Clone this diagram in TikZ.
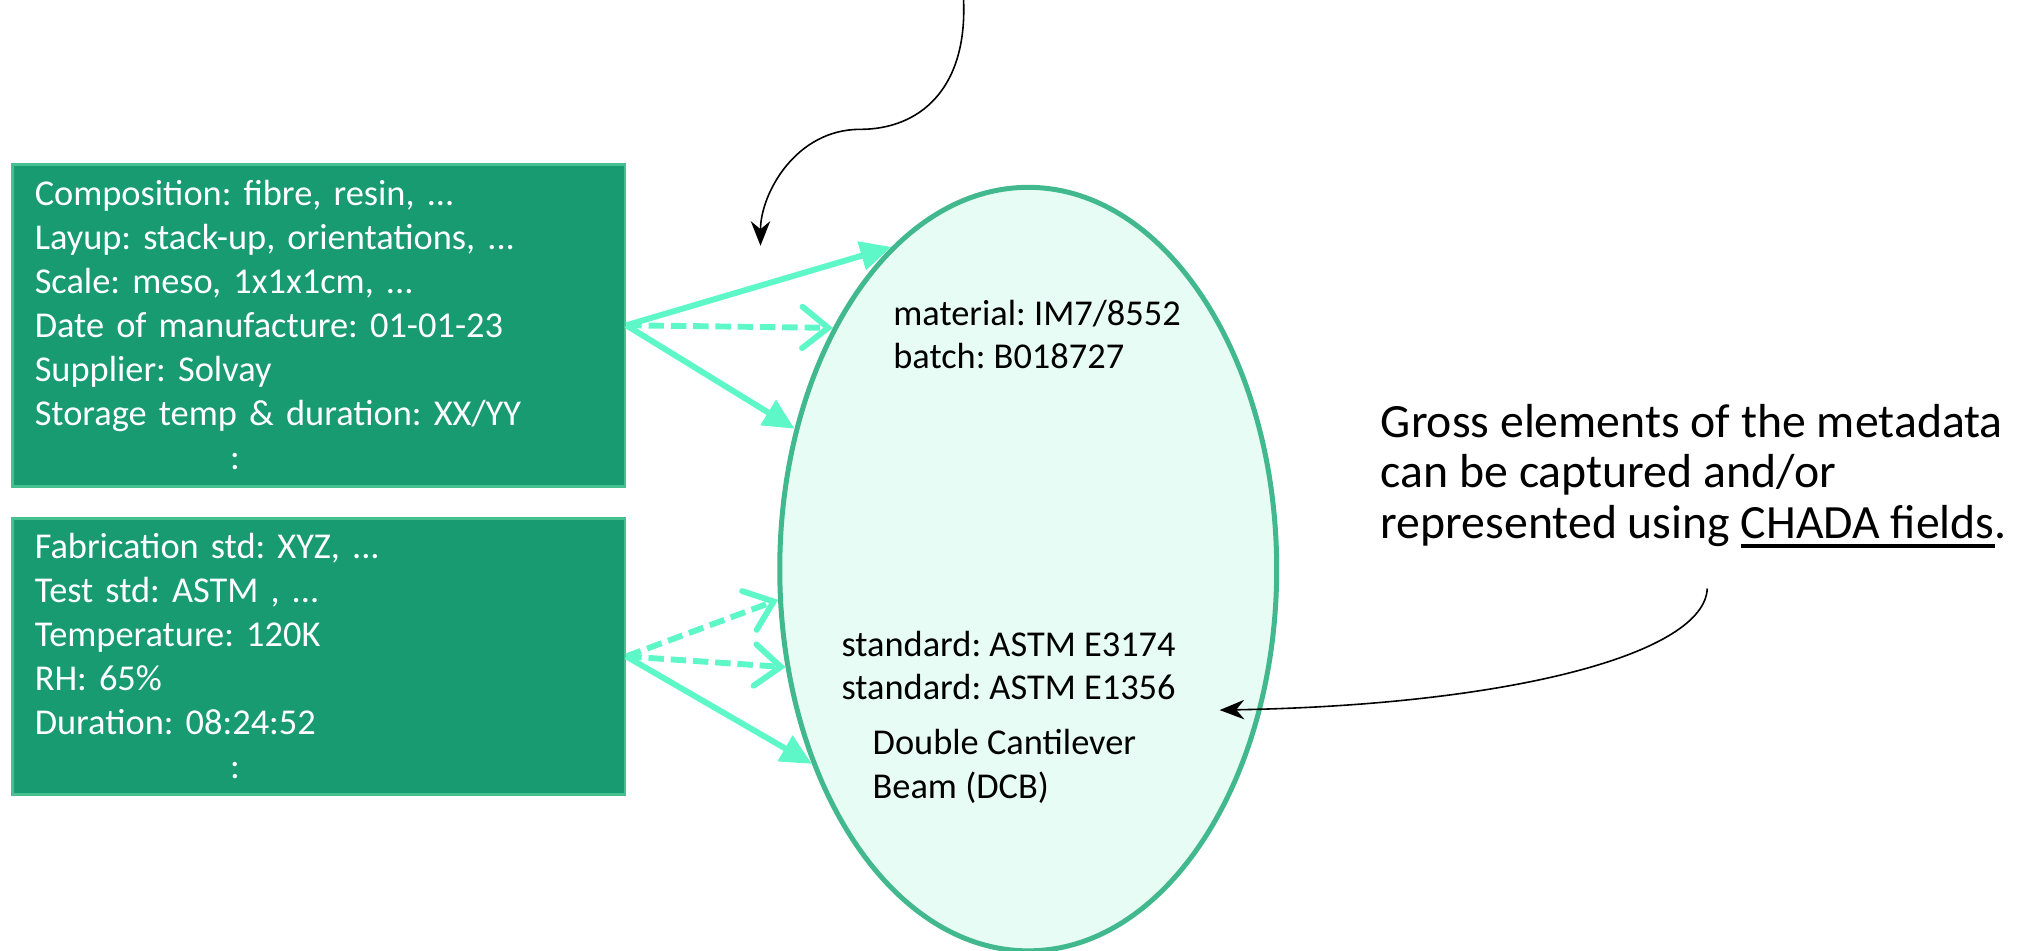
\documentclass[tikz,border=0pt]{standalone}
\usepackage{fontspec}
\setmainfont{Carlito}
\newcommand{\fieldline}[1]{\setbox0\hbox{#1}\rlap{\rule[-2.2pt]{\wd0}{0.8pt}}\box0}
\frenchspacing
\usetikzlibrary{arrows.meta,positioning,shapes.geometric}
\definecolor{boxgreen}{RGB}{24,155,112}
\definecolor{boxedge}{RGB}{70,192,145}
\definecolor{linkmint}{RGB}{94,248,200}
\definecolor{ovalfill}{RGB}{230,252,245}
\definecolor{ovaledge}{RGB}{66,184,142}
\tikzset{
  linksolid/.style={-{Triangle[length=2.4mm,width=2.2mm]}, line width=1.3pt, draw=linkmint},
  linkdash/.style={-{Straight Barb[length=2mm,width=3.2mm,line cap=round]}, line width=1.3pt, draw=linkmint, dash pattern=on 3.4pt off 1.5pt},
  pointer/.style={-{Stealth[length=1.9mm,width=1.5mm]}, line width=0.35pt, draw=black},
  infobox/.style={
    draw=boxedge,
    line width=0.6pt,
    fill=boxgreen,
    text=white,
    align=left,
    text width=4.39cm,
    inner xsep=0.17cm,
    font=\fontsize{8}{9.67}\selectfont
  },
  oval/.style={ellipse, draw=ovaledge, fill=ovalfill, line width=1.1pt, inner sep=0pt},
  ovaltext/.style={align=left, inner sep=0pt, font=\fontsize{8}{9.5}\selectfont},
  notetext/.style={align=left, inner sep=0pt, font=\fontsize{10.5}{11.1}\selectfont}
}
\begin{document}
\begin{tikzpicture}[x=0.01cm,y=-0.01cm]
\useasboundingbox (0,0) rectangle (1568,735);
% metadata boxes
\node[infobox,minimum height=2.49cm] (matbox) at (246.5,251.5) {Composition: fibre, resin, ...\\
Layup: stack-up, orientations, ...\\
Scale: meso, 1x1x1cm, ...\\
Date of manufacture: 01-01-23\\
Supplier: Solvay\\
Storage temp \& duration: XX/YY\\
\hspace*{1.51cm}:};
\node[infobox,minimum height=2.09cm] (testbox) at (246.5,507.5) {Fabrication std: XYZ, ...\\
Test std: ASTM , ...\\
Temperature: 120K\\
RH: 65\%\\
Duration: 08:24:52\\
\hspace*{1.51cm}:};
% specimen
\node[oval,minimum width=3.84cm,minimum height=5.9cm] (spec) at (795,440) {};
\node[ovaltext,anchor=west] (matid) at (690,258.5) {material: IM7/8552\\batch: B018727};
\node[ovaltext,anchor=west] (stdid) at (650,514.5) {standard: ASTM E3174\\standard: ASTM E1356};
\node[ovaltext,anchor=west] (testid) at (674,592.5) {Double Cantilever\\Beam (DCB)};
% links
\draw[linksolid] (matbox.east) -- (spec.113.6);
\draw[linkdash] (matbox.east) -- (spec.129.7);
\draw[linksolid] (matbox.east) -- (spec.149.2);
\draw[linkdash] (testbox.east) -- (spec.187.2);
\draw[linkdash] (testbox.east) -- (spec.202.2);
\draw[linksolid] (testbox.east) -- (spec.222.3);
% note
\node[notetext,anchor=west] (note) at (1067,368) {Gross elements of the metadata\\
can be captured and/or\\
represented using \fieldline{CHADA fields}.};
\coordinate (topstart) at (745,0);
\coordinate (toptip) at (588,190);
\coordinate (notestart) at (1320,455);
\coordinate (notetip) at (943,549);
\draw[pointer] (topstart) .. controls (748,70) and (710,100) .. (665,100) .. controls (615,100) and (588,150) .. (toptip);
\draw[pointer] (notestart) .. controls (1318,505) and (1170,545) .. (notetip);
\end{tikzpicture}
\end{document}
